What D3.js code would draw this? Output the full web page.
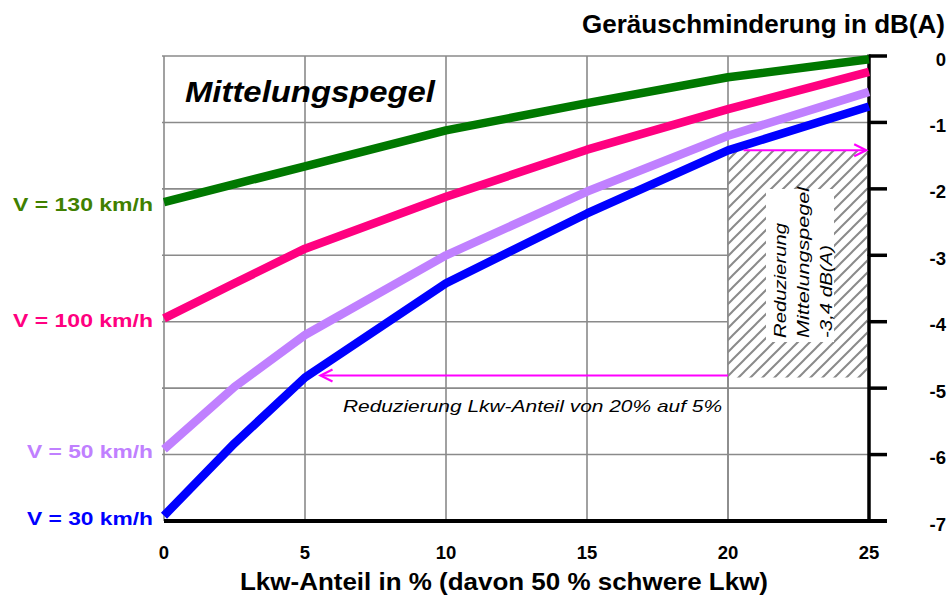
<!DOCTYPE html>
<html>
<head>
<meta charset="utf-8">
<script src="https://cdn.jsdelivr.net/npm/d3@7"></script>
<style>
  html, body { margin: 0; padding: 0; background: #fff; }
  svg { display: block; font-family: "Liberation Sans", Arial, sans-serif; }
</style>
</head>
<body>
<svg id="chart" width="952" height="596"></svg>
<script>
// ---- data ----
const xValues = [0, 2.5, 5, 10, 15, 20, 25];
const v130 = [-2.2, -1.93, -1.66, -1.12, -0.71, -0.32, -0.05];
const v100 = [-3.95, -3.42, -2.9, -2.12, -1.41, -0.8, -0.24];
const v50  = [-5.92, -4.98, -4.2, -3.0, -2.04, -1.2, -0.54];
const v30  = [-6.92, -5.83, -4.84, -3.42, -2.37, -1.42, -0.76];
const seriesNames = ["V = 130 km/h", "V = 100 km/h", "V = 50 km/h", "V = 30 km/h"];
const xTicks = [0, 5, 10, 15, 20, 25];
const yTicks = [0, -1, -2, -3, -4, -5, -6, -7];
const titleText = "Geräuschminderung in dB(A)";
const xTitleText = "Lkw-Anteil in % (davon 50 % schwere Lkw)";
const chartLabel = "Mittelungspegel";
const arrowText = "Reduzierung Lkw-Anteil von 20% auf 5%";
const boxLines = ["Reduzierung", "Mittelungspegel", "-3,4 dB(A)"];

const series = [
  { name: seriesNames[0], values: v130, line: "#007800", label: "#408000", labelW: 140 },
  { name: seriesNames[1], values: v100, line: "#ff0080", label: "#ff0080", labelW: 140 },
  { name: seriesNames[2], values: v50,  line: "#c080ff", label: "#c080ff", labelW: 126 },
  { name: seriesNames[3], values: v30,  line: "#0000ff", label: "#0000ff", labelW: 126 }
];

const svg = d3.select("#chart");
const x = d3.scaleLinear().domain([0, 25]).range([164, 869]);
const y = d3.scaleLinear().domain([-7, 0]).range([521, 56]);

const grid = "#8a8a8a";

// hatch pattern
const defs = svg.append("defs");
const P = 12;
const pat = defs.append("pattern").attr("id", "hatch")
  .attr("patternUnits", "userSpaceOnUse").attr("width", P).attr("height", P);
pat.append("rect").attr("width", P).attr("height", P).attr("fill", "#fff");
pat.append("path").attr("d", `M-1,1 l2,-2 M0,${P} l${P},-${P} M${P - 1},${P + 1} l2,-2`)
  .attr("stroke", "#8a8a8a").attr("stroke-width", 2);

// gridlines
svg.append("g").selectAll("line").data(yTicks.filter(d => d > -7)).join("line")
  .attr("x1", x(0) - 2).attr("x2", x(25)).attr("y1", d => y(d)).attr("y2", d => y(d))
  .attr("stroke", grid).attr("stroke-width", 1.6);
svg.append("g").selectAll("line").data(xTicks.filter(d => d < 25)).join("line")
  .attr("x1", d => x(d)).attr("x2", d => x(d)).attr("y1", y(0)).attr("y2", y(-7))
  .attr("stroke", grid).attr("stroke-width", 1.6);

// hatched box: from 20% to 25%, between the 30 km/h values at 20% and 5%
const yTopBox = y(v30[5]), yBotBox = y(v30[2]);
svg.append("rect").attr("x", x(20)).attr("y", yTopBox)
  .attr("width", x(25) - x(20) - 2).attr("height", yBotBox - yTopBox)
  .attr("fill", "url(#hatch)");
svg.append("line").attr("x1", x(20)).attr("x2", x(20)).attr("y1", yTopBox).attr("y2", y(-7))
  .attr("stroke", grid).attr("stroke-width", 1.6);
svg.append("rect").attr("x", 766).attr("y", 189).attr("width", 68).attr("height", 153).attr("fill", "#fff");

// axes
const axisG = svg.append("g");
axisG.append("line").attr("x1", x(0)).attr("x2", x(25) + 18).attr("y1", y(-7)).attr("y2", y(-7))
  .attr("stroke", "#000").attr("stroke-width", 4);
axisG.append("line").attr("x1", x(25)).attr("x2", x(25)).attr("y1", y(0) - 1.5).attr("y2", y(-7))
  .attr("stroke", "#000").attr("stroke-width", 3.5);
axisG.selectAll("line.tick").data(yTicks).join("line").attr("class", "tick")
  .attr("x1", x(25)).attr("x2", x(25) + 18).attr("y1", d => y(d)).attr("y2", d => y(d))
  .attr("stroke", "#000").attr("stroke-width", 3.5);

// y tick labels (right)
svg.append("g").selectAll("text").data(yTicks).join("text")
  .attr("x", 946).attr("y", d => y(d) + 9.5)
  .attr("text-anchor", "end").attr("font-size", 18.5).attr("font-weight", "bold")
  .text(d => d === 0 ? "0" : String(d));

// x tick labels
svg.append("g").selectAll("text").data(xTicks).join("text")
  .attr("x", d => x(d)).attr("y", 559)
  .attr("text-anchor", "middle").attr("font-size", 18.5).attr("font-weight", "bold")
  .text(d => d);

// lines
const line = d3.line().x((d, i) => x(xValues[i])).y(d => y(d));
svg.append("g").selectAll("path").data(series).join("path")
  .attr("d", d => line(d.values))
  .attr("fill", "none").attr("stroke", d => d.line).attr("stroke-width", 8.5)
  .attr("stroke-linejoin", "round").attr("stroke-linecap", "butt");

// series labels
svg.append("g").selectAll("text").data(series).join("text")
  .attr("x", 153).attr("y", d => y(d.values[0]) + 9)
  .attr("text-anchor", "end").attr("font-size", 19).attr("font-weight", "bold")
  .attr("fill", d => d.label)
  .attr("textLength", d => d.labelW).attr("lengthAdjust", "spacingAndGlyphs")
  .text(d => d.name);

// arrows
const magenta = "#ff00ff";
function arrow(x1, x2, yy) {
  const dir = x2 > x1 ? 1 : -1;
  const g = svg.append("g").attr("stroke", magenta).attr("stroke-width", 2).attr("fill", "none");
  g.append("line").attr("x1", x1).attr("x2", x2).attr("y1", yy).attr("y2", yy);
  g.append("path").attr("d", `M${x2 - dir * 12},${yy - 6} L${x2},${yy} L${x2 - dir * 12},${yy + 6}`)
    .attr("stroke-width", 2.2);
}
arrow(x(20.55), x(24.9), y(v30[5]));
arrow(x(20), x(5.55), y(v30[2]) - 2);

// arrow text
svg.append("text").attr("x", 722).attr("y", 412).attr("text-anchor", "end")
  .attr("font-size", 17).attr("font-style", "italic")
  .attr("textLength", 379).attr("lengthAdjust", "spacingAndGlyphs")
  .text(arrowText);

// rotated box text
const boxLens = [115, 151, 93];
const boxX = [786, 809, 832];
boxLines.forEach((t, i) => {
  svg.append("text").attr("transform", `translate(${boxX[i]},338) rotate(-90)`)
    .attr("x", 0).attr("y", 0)
    .attr("font-size", 17).attr("font-style", "italic")
    .attr("textLength", boxLens[i]).attr("lengthAdjust", "spacingAndGlyphs")
    .text(t);
});

// chart label
svg.append("text").attr("x", 185).attr("y", 102)
  .attr("font-size", 30).attr("font-weight", "bold").attr("font-style", "italic")
  .attr("textLength", 250).attr("lengthAdjust", "spacingAndGlyphs")
  .text(chartLabel);

// titles
svg.append("text").attr("x", 945).attr("y", 33).attr("text-anchor", "end")
  .attr("font-size", 25).attr("font-weight", "bold")
  .attr("textLength", 363).attr("lengthAdjust", "spacingAndGlyphs")
  .text(titleText);
svg.append("text").attr("x", 504).attr("y", 590).attr("text-anchor", "middle")
  .attr("font-size", 24).attr("font-weight", "bold")
  .attr("textLength", 528).attr("lengthAdjust", "spacingAndGlyphs")
  .text(xTitleText);
</script>
</body>
</html>
